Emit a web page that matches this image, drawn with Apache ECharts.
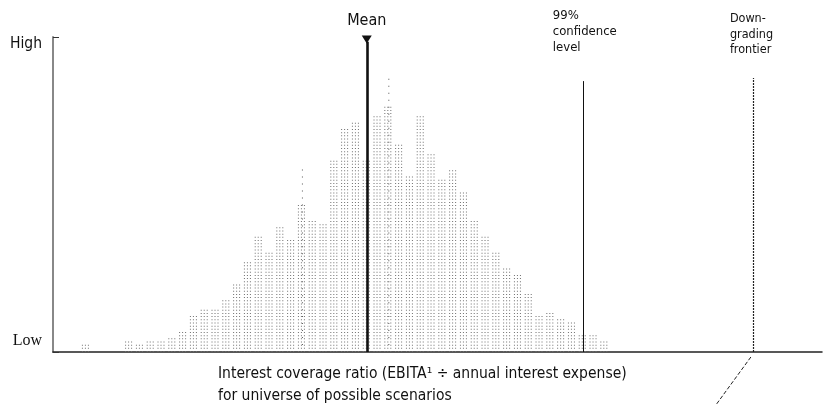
<!DOCTYPE html>
<html>
<head>
<meta charset="utf-8">
<script src="https://cdn.jsdelivr.net/npm/echarts@6/dist/echarts.min.js"></script>
<style>html,body{margin:0;padding:0;background:#fff}#c{width:824px;height:415px}</style>
</head>
<body>
<div id="c"></div>
<script>
// Histogram bins (scenario bins along the interest-coverage axis) and relative frequency (0 = Low, 100 = High)
const bins = [3, 7, 8, 9, 10, 11, 12, 13, 14, 15, 16, 17, 18, 19, 20, 21, 22, 23, 24, 25, 26, 27, 28, 29, 30,
              31, 32, 33, 34, 35, 36, 37, 38, 39, 40, 41, 42, 43, 44, 45, 46, 47, 48, 49, 50, 51];
const freq = [1.6, 2.9, 2.2, 3.2, 2.9, 4.1, 6.3, 10.8, 13.3, 13.3, 15.6, 21.3, 27.6, 36.2, 30.8, 39.0, 35.2, 46.0,
              41.3, 40.3, 60.0, 69.8, 72.1, 60.0, 74.6, 77.8, 65.7, 55.2, 74.6, 61.9, 54.6, 56.8, 49.8, 41.0, 35.6,
              31.4, 26.0, 23.8, 17.5, 10.8, 11.7, 9.5, 9.2, 4.4, 4.4, 3.2];
// sparse outlying dots above a few columns
const sparseBins = [23, 31];
const sparseFreq = [56.8, 86.3];
// reference markers on the x axis
const meanX = 29.05;
const conf99X = 49.05;
const frontierX = 64.8;
const xMax = 71.2;
const yTickLabels = ['Low', 'High'];
const markerTop = 86;

const FONT = "'Liberation Sans Narrow', 'Arial Narrow', 'DejaVu Sans Condensed', sans-serif";
const chart = echarts.init(document.getElementById('c'), null, {renderer: 'canvas'});
const dotRow = 'path://M0 0h1v1H0zM3 0h1v1H3zM6 0h1v1H6z';

chart.setOption({
  animation: false,
  backgroundColor: '#fff',
  grid: {left: 53, right: 2, top: 37, bottom: 63, containLabel: false, outerBoundsMode: 'none'},
  xAxis: {
    type: 'value', min: 0, max: xMax,
    axisLine: {show: true, lineStyle: {color: '#222', width: 1.5}},
    axisTick: {show: false}, axisLabel: {show: false}, splitLine: {show: false}
  },
  yAxis: {
    type: 'value', min: 0, max: 100, interval: 100,
    name: 'Frequency', nameLocation: 'middle', nameGap: 30, nameRotate: 90,
    nameTextStyle: {fontFamily: FONT, fontSize: 15, color: '#111'},
    axisLine: {show: true, lineStyle: {color: '#888', width: 2}},
    axisTick: {show: true, inside: true, length: 6, lineStyle: {color: '#333', width: 1}},
    splitLine: {show: false},
    axisLabel: {
      margin: 11,
      formatter: v => v === 100 ? '{hi|' + yTickLabels[1] + '}' : '{lo|' + yTickLabels[0] + '}',
      rich: {
        hi: {fontFamily: FONT, fontSize: 15.5, color: '#111', padding: [14, 0, 0, 0]},
        lo: {fontFamily: "'Liberation Serif', serif", fontSize: 16, color: '#111', padding: [0, 0, 22, 0]}
      }
    }
  },
  series: [
    {
      type: 'pictorialBar',
      data: sparseBins.map((b, i) => [b, sparseFreq[i]]),
      symbol: 'rect', symbolSize: [1, 1], symbolRepeat: true, symbolMargin: 3,
      symbolOffset: [1, 0],
      itemStyle: {color: '#555'}, barWidth: 8, silent: true, z: 2
    },
    {
      type: 'pictorialBar',
      data: bins.map((b, i) => [b, freq[i]]),
      symbol: dotRow, symbolSize: [7, 1], symbolRepeat: true, symbolMargin: 1.1,
      itemStyle: {color: '#707070'}, barWidth: 8, silent: true, z: 3,
      markLine: {
        silent: true, symbol: ['none', 'none'], label: {show: false},
        data: [
          [{coord: [meanX, 0], lineStyle: {color: '#111', width: 2.6, type: 'solid'}}, {coord: [meanX, 98.5]}],
          [{coord: [conf99X, 0], lineStyle: {color: '#111', width: 1, type: 'solid'}}, {coord: [conf99X, markerTop]}],
          [{coord: [frontierX, 0], lineStyle: {color: '#222', width: 1.2, type: [2, 1]}}, {coord: [frontierX, markerTop + 1]}]
        ]
      },
      markPoint: {
        silent: true, label: {show: false},
        data: [{coord: [meanX, 99.2], symbol: 'triangle', symbolRotate: 180, symbolSize: [10, 8], itemStyle: {color: '#111'}}]
      }
    }
  ]
});

const px = v => chart.convertToPixel({xAxisIndex: 0}, v);
const py = v => chart.convertToPixel({yAxisIndex: 0}, v);
const mX = px(meanX), cX = px(conf99X), fX = px(frontierX), base = py(0);
const txt = (x, y, text, size, align, lh) => ({
  type: 'text', x: x, y: y, silent: true,
  style: {text: text, fontFamily: FONT, fontSize: size, fill: '#111', align: align || 'left', verticalAlign: 'top', lineHeight: lh || size + 2}
});
chart.setOption({
  graphic: [
    txt(mX, 12, 'Mean', 16, 'center'),
    txt(cX - 30, 8, '99%\nconfidence\nlevel', 13, 'left', 16),
    txt(fX - 23, 11, 'Down-\ngrading\nfrontier', 12.5, 'left', 15.5),
    txt(218, base + 11, 'Interest coverage ratio (EBITA\u00b9 \u00f7 annual interest expense)\nfor universe of possible scenarios', 15.5, 'left', 22),
    {type: 'line', silent: true, shape: {x1: fX - 2, y1: base + 5, x2: fX - 37, y2: base + 53},
     style: {stroke: '#222', lineWidth: 1, lineDash: [4, 2]}}
  ]
});
</script>
</body>
</html>
